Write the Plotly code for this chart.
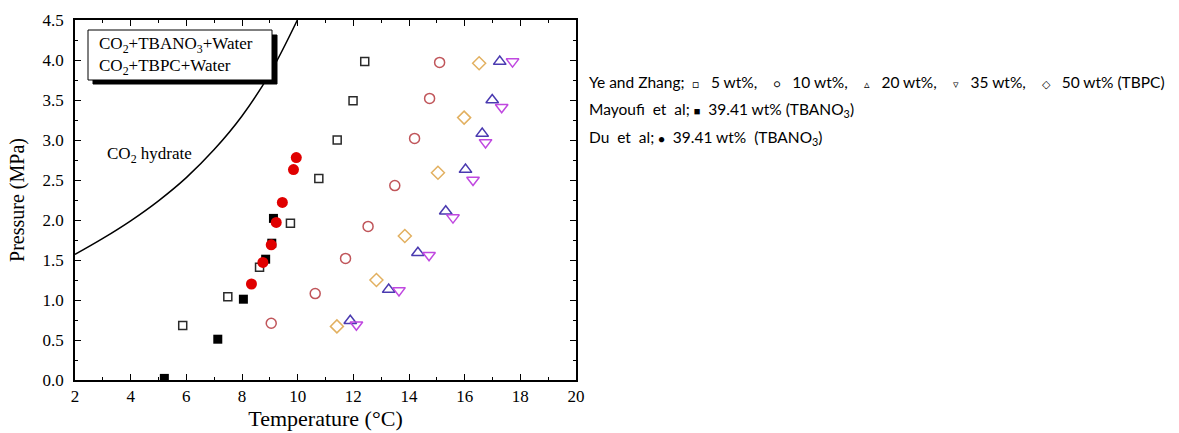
import plotly.graph_objects as go

# ---- data ----
t5 = [5.87, 7.49, 8.63, 9.74, 10.76, 11.42, 11.99, 12.41]
p5 = [0.68, 1.04, 1.41, 1.96, 2.52, 3.00, 3.49, 3.98]
t10 = [9.05, 10.63, 11.72, 12.53, 13.49, 14.20, 14.74, 15.10]
p10 = [0.71, 1.08, 1.52, 1.92, 2.43, 3.02, 3.52, 3.97]
t20 = [11.89, 13.27, 14.32, 15.32, 16.03, 16.63, 16.99, 17.26]
p20 = [0.74, 1.13, 1.59, 2.11, 2.63, 3.08, 3.50, 3.98]
t35 = [12.11, 13.64, 14.72, 15.58, 16.30, 16.75, 17.33, 17.72]
p35 = [0.69, 1.12, 1.56, 2.03, 2.50, 2.97, 3.41, 3.98]
t50 = [11.41, 12.83, 13.85, 15.04, 15.98, 16.52]
p50 = [0.67, 1.25, 1.80, 2.59, 3.28, 3.96]
t_mayoufi = [5.21, 7.13, 8.05, 8.85, 9.07, 9.13]
p_mayoufi = [0.02, 0.51, 1.01, 1.51, 1.71, 2.02]
t_du = [8.34, 8.75, 9.05, 9.23, 9.45, 9.85, 9.95]
p_du = [1.20, 1.47, 1.69, 1.97, 2.22, 2.63, 2.78]
t_hyd = [2.0, 3.0, 4.0, 5.0, 6.0, 7.0, 8.0, 9.0, 9.99]
p_hyd = [1.57, 1.77, 1.99, 2.24, 2.53, 2.88, 3.30, 3.83, 4.5]

x_ticks = [2, 4, 6, 8, 10, 12, 14, 16, 18, 20]
y_ticks = [0.0, 0.5, 1.0, 1.5, 2.0, 2.5, 3.0, 3.5, 4.0, 4.5]

SERIF = "Liberation Serif"
SANS = "Lato"

fig = go.Figure()

fig.add_trace(go.Scatter(x=t_hyd, y=p_hyd, mode="lines",
                         line=dict(color="black", width=1.5, shape="spline", smoothing=1.0),
                         showlegend=False, hoverinfo="skip"))


def mk(x, y, symbol, color, size, lw=1.5):
    fig.add_trace(go.Scatter(x=x, y=y, mode="markers", showlegend=False,
                             marker=dict(symbol=symbol, size=size, color=color,
                                         line=dict(color=color, width=lw))))


mk(t5, p5, "square-open", "#2a2a2a", 8)
mk(t10, p10, "circle-open", "#c0555a", 10)
mk(t20, p20, "triangle-up-open", "#4a3ab0", 11)
mk(t35, p35, "triangle-down-open", "#c048e0", 11)
mk(t50, p50, "diamond-open", "#e2b060", 10)
mk(t_mayoufi, p_mayoufi, "square", "black", 9, 0)
mk(t_du, p_du, "circle", "#e00000", 11, 0)

fig.add_annotation(x=4.67, y=2.81, text="CO<sub>2</sub> hydrate", showarrow=False,
                   font=dict(family=SERIF, size=17, color="black"))

# boxed label with shadow (top-left)
W, H = 501.0, 360.0
def px_x(p):
    return (p - 75) / W
def px_y(p):
    return (380 - p) / H

fig.add_shape(type="rect", xref="paper", yref="paper", x0=px_x(93), x1=px_x(277), y0=px_y(84), y1=px_y(35),
              fillcolor="black", line=dict(color="black", width=1), layer="above")
fig.add_shape(type="rect", xref="paper", yref="paper", x0=px_x(88), x1=px_x(272), y0=px_y(80), y1=px_y(30),
              fillcolor="white", line=dict(color="black", width=1), layer="above")
fig.add_annotation(xref="paper", yref="paper", x=px_x(97), y=px_y(45), xanchor="left", yanchor="middle",
                   text="CO<sub>2</sub>+TBANO<sub>3</sub>+Water", showarrow=False,
                   font=dict(family=SERIF, size=17, color="black"))
fig.add_annotation(xref="paper", yref="paper", x=px_x(97), y=px_y(67), xanchor="left", yanchor="middle",
                   text="CO<sub>2</sub>+TBPC+Water", showarrow=False,
                   font=dict(family=SERIF, size=17, color="black"))

# right-hand legend text
NB = "\u00a0"


def sym(s):
    return '<span style="font-size:11px">' + s + '</span>'


line1 = ("Ye and Zhang;" + NB * 2 + sym("□") + NB * 3 + "5 wt%," + NB * 4 + sym("○") + NB * 3 + "10 wt%,"
         + NB * 4 + sym("▵") + NB * 3 + "20 wt%," + NB * 4 + sym("▿") + NB * 3 + "35 wt%,"
         + NB * 4 + sym("◇") + NB * 3 + "50 wt% (TBPC)")
line2 = "Mayoufi" + NB * 2 + "et" + NB * 2 + "al;" + NB + sym("■") + NB * 2 + "39.41 wt% (TBANO<sub>3</sub>)"
line3 = "Du" + NB * 2 + "et" + NB * 2 + "al;" + NB + sym("●") + NB * 2 + "39.41 wt%" + NB * 2 + "(TBANO<sub>3</sub>)"

for txt, yy in [(line1, 82), (line2, 110), (line3, 138)]:
    fig.add_annotation(xref="paper", yref="paper", x=px_x(587), y=px_y(yy), xanchor="left", yanchor="middle",
                       text=txt, showarrow=False, font=dict(family=SANS, size=15.5, color="black"))

axis_common = dict(showline=True, linecolor="black", linewidth=1.5, mirror="ticks", ticks="inside",
                   ticklen=6, tickwidth=1.2, tickcolor="black", showgrid=False, zeroline=False,
                   tickfont=dict(family=SERIF, size=17, color="black"))

fig.update_xaxes(range=[2, 20], tickvals=x_ticks, ticktext=[str(v) for v in x_ticks],
                 minor=dict(dtick=1, ticks="inside", ticklen=3, tickcolor="black", tickwidth=1),
                 title=dict(text="Temperature (°C)", font=dict(family=SERIF, size=22, color="black"), standoff=5),
                 **axis_common)
fig.update_yaxes(range=[0, 4.5], tickvals=y_ticks, ticktext=["%.1f" % v for v in y_ticks],
                 ticklabelstandoff=6,
                 minor=dict(dtick=0.25, ticks="inside", ticklen=3, tickcolor="black", tickwidth=1),
                 title=dict(text="Pressure (MPa)", font=dict(family=SERIF, size=20, color="black"), standoff=13),
                 **axis_common)

fig.update_layout(width=1179, height=433, margin=dict(l=75, r=603, t=20, b=53, autoexpand=False),
                  paper_bgcolor="white", plot_bgcolor="white", showlegend=False)

fig.write_html("out.html")
